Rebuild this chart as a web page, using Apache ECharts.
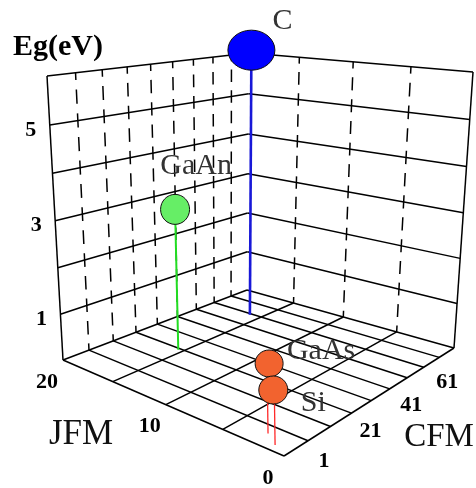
<!DOCTYPE html>
<html>
<head>
<meta charset="utf-8">
<script src="https://cdn.jsdelivr.net/npm/echarts/dist/echarts.min.js"></script>
<style>html,body{margin:0;padding:0;background:#fff;}#main{width:476px;height:488px;}</style>
</head>
<body>
<div id="main"></div>
<script>
// ---------------- data ----------------
const materials = ['C', 'GaAn', 'GaAs', 'Si'];
const jfmValues = [16, 15.4, 2.4, 1.3];
const cfmValues = [70, 30, 7.5, 3.6];
const egValues  = [6.25, 3.1, 1.3, 1.0];

const jfmTicks = [0, 10, 20];
const cfmTicks = [1, 21, 41, 61];
const egTicks  = [1, 3, 5];

const jfmGrid = [0, 5, 10, 15, 20];
const cfmGrid = [1, 11, 21, 31, 41, 51, 61, 71, 81, 91];
const egGrid  = [0, 1, 2, 3, 4, 5, 6];

// ---------------- styles / layout ----------------
const ballColors  = ['#0000ff', '#66ee66', '#f2632f', '#f2632f'];
const stemColors  = ['#1818d8', '#22dd22', '#ff2a2a', '#ff2a2a'];
const stemWidths  = [2.6, 2, 1.3, 1.3];
const ballRadii   = [[23.5, 20], [14.5, 15], [14, 13.5], [14.5, 14]];
const labelOffsets = [[31, -29], [21, -43], [52, -12], [40, 13]];
const stemShift = [0, 0, -2, 1];

// projected box (screen layout of the 3D axis cube)
const range = { j: [0, 20], c: [1, 91], e: [0, 6] };
const corners = {            // key: j(0/1) c(0/1) e(0/1)
  '000': [284, 456], '100': [63, 360], '010': [454, 348], '110': [247, 290],
  '001': [279, 108], '101': [47, 76],  '011': [473, 72],  '111': [249, 53]
};
const persp = { j: 0.87, c: 0.76, e: 1.04 };
function warp(t, a) { return t / (a + (1 - a) * t); }
function project(j, c, e) {
  const v = warp((j - range.j[0]) / (range.j[1] - range.j[0]), persp.j);
  const u = warp((c - range.c[0]) / (range.c[1] - range.c[0]), persp.c);
  const w = warp((e - range.e[0]) / (range.e[1] - range.e[0]), persp.e);
  let x = 0, y = 0;
  for (const a of [0, 1]) for (const b of [0, 1]) for (const d of [0, 1]) {
    const wt = (a ? v : 1 - v) * (b ? u : 1 - u) * (d ? w : 1 - w);
    const p = corners['' + a + b + d];
    x += wt * p[0]; y += wt * p[1];
  }
  return [x, y];
}

// ---------------- grid line items (built from the grid arrays) ----------------
const J0 = range.j[0], J1 = range.j[1], C0 = range.c[0], C1 = range.c[1], E0 = range.e[0], E1 = range.e[1];
const gridLines = [];
jfmGrid.forEach(j => gridLines.push([j, C0, E0, j, C1, E0, 0]));          // floor
cfmGrid.forEach(c => gridLines.push([J0, c, E0, J1, c, E0, 0]));          // floor
egGrid.slice(1).forEach(e => {
  gridLines.push([J1, C0, e, J1, C1, e, 0]);                              // left wall
  gridLines.push([J1, C1, e, J0, C1, e, 0]);                              // right wall
});
gridLines.push([J1, C0, E0, J1, C0, E1, 0]);
gridLines.push([J0, C1, E0, J0, C1, E1, 0]);
for (let k = 0; k < egGrid.length - 1; k++) {
  cfmGrid.slice(1, -1).forEach(c => gridLines.push([J1, c, egGrid[k], J1, c, egGrid[k + 1], 1]));
  jfmGrid.slice(1, -1).forEach(j => gridLines.push([j, C1, egGrid[k], j, C1, egGrid[k + 1], 1]));
}

const tickItems = [];
jfmTicks.forEach(v => tickItems.push([0, v]));
cfmTicks.forEach(v => tickItems.push([1, v]));
egTicks.forEach(v => tickItems.push([2, v]));
const tickOffsets = [[-16, 22], [40, 5], [-19, 5]];

const points = materials.map((m, i) => [jfmValues[i], cfmValues[i], egValues[i]]);

const SERIF = '"Liberation Serif", "DejaVu Serif", serif';

const chart = echarts.init(document.getElementById('main'), null, { renderer: 'canvas' });
chart.setOption({
  backgroundColor: '#fff',
  animation: false,
  graphic: [
    { type: 'text', x: 58, y: 47, style: { text: 'Eg(eV)', font: 'bold 30px ' + SERIF, fill: '#000', align: 'center', verticalAlign: 'middle', textAlign: 'center', textVerticalAlign: 'middle' } },
    { type: 'text', x: 81, y: 435, style: { text: 'JFM', font: '35px ' + SERIF, fill: '#111', align: 'center', verticalAlign: 'middle', textAlign: 'center', textVerticalAlign: 'middle' } },
    { type: 'text', x: 439, y: 437, style: { text: 'CFM', font: '33px ' + SERIF, fill: '#111', align: 'center', verticalAlign: 'middle', textAlign: 'center', textVerticalAlign: 'middle' } }
  ],
  series: [
    {
      type: 'custom', coordinateSystem: 'none', z: 1, silent: true,
      data: gridLines,
      renderItem: function (params, api) {
        const p1 = project(api.value(0), api.value(1), api.value(2));
        const p2 = project(api.value(3), api.value(4), api.value(5));
        const style = { stroke: '#000', lineWidth: 1.5, fill: null };
        if (api.value(6) === 1) {
          const L = Math.hypot(p2[0] - p1[0], p2[1] - p1[1]);
          style.lineDash = [0.3 * L, 0.2 * L];
          style.lineDashOffset = 0.15 * L;
        }
        return { type: 'line', shape: { x1: p1[0], y1: p1[1], x2: p2[0], y2: p2[1] }, style: style };
      }
    },
    {
      type: 'custom', coordinateSystem: 'none', z: 2, silent: true,
      data: tickItems,
      renderItem: function (params, api) {
        const axis = api.value(0), v = api.value(1);
        let p;
        if (axis === 0) p = project(v, C0, E0);
        else if (axis === 1) p = project(J0, v, E0);
        else p = project(J1, C0, v);
        const off = tickOffsets[axis];
        return { type: 'text', x: p[0] + off[0], y: p[1] + off[1],
          style: { text: String(v), font: 'bold 22px ' + SERIF, fill: '#000', align: 'center', verticalAlign: 'middle', textAlign: 'center', textVerticalAlign: 'middle' } };
      }
    },
    {
      type: 'custom', coordinateSystem: 'none', z: 3, silent: true,
      data: points,
      renderItem: function (params, api) {
        const i = params.dataIndex;
        const j = api.value(0), c = api.value(1), e = api.value(2);
        const p0 = project(j, c, E0), p1 = project(j, c, e);
        const s = stemShift[i];
        return { type: 'line', shape: { x1: p0[0] + s, y1: p0[1], x2: p1[0] + s, y2: p1[1] },
          style: { stroke: stemColors[i], lineWidth: stemWidths[i] } };
      }
    },
    {
      type: 'custom', coordinateSystem: 'none', z: 4, silent: true,
      data: points,
      renderItem: function (params, api) {
        const i = params.dataIndex;
        const p = project(api.value(0), api.value(1), api.value(2));
        const r = ballRadii[i], off = labelOffsets[i];
        return { type: 'group', children: [
          { type: 'ellipse', shape: { cx: p[0], cy: p[1], rx: r[0], ry: r[1] },
            style: { fill: ballColors[i], stroke: '#111', lineWidth: 1 } },
          { type: 'text', x: p[0] + off[0], y: p[1] + off[1],
            style: { text: materials[i], font: '30px ' + SERIF, fill: '#333', align: 'center', verticalAlign: 'middle', textAlign: 'center', textVerticalAlign: 'middle' } }
        ] };
      }
    }
  ]
});
</script>
</body>
</html>
